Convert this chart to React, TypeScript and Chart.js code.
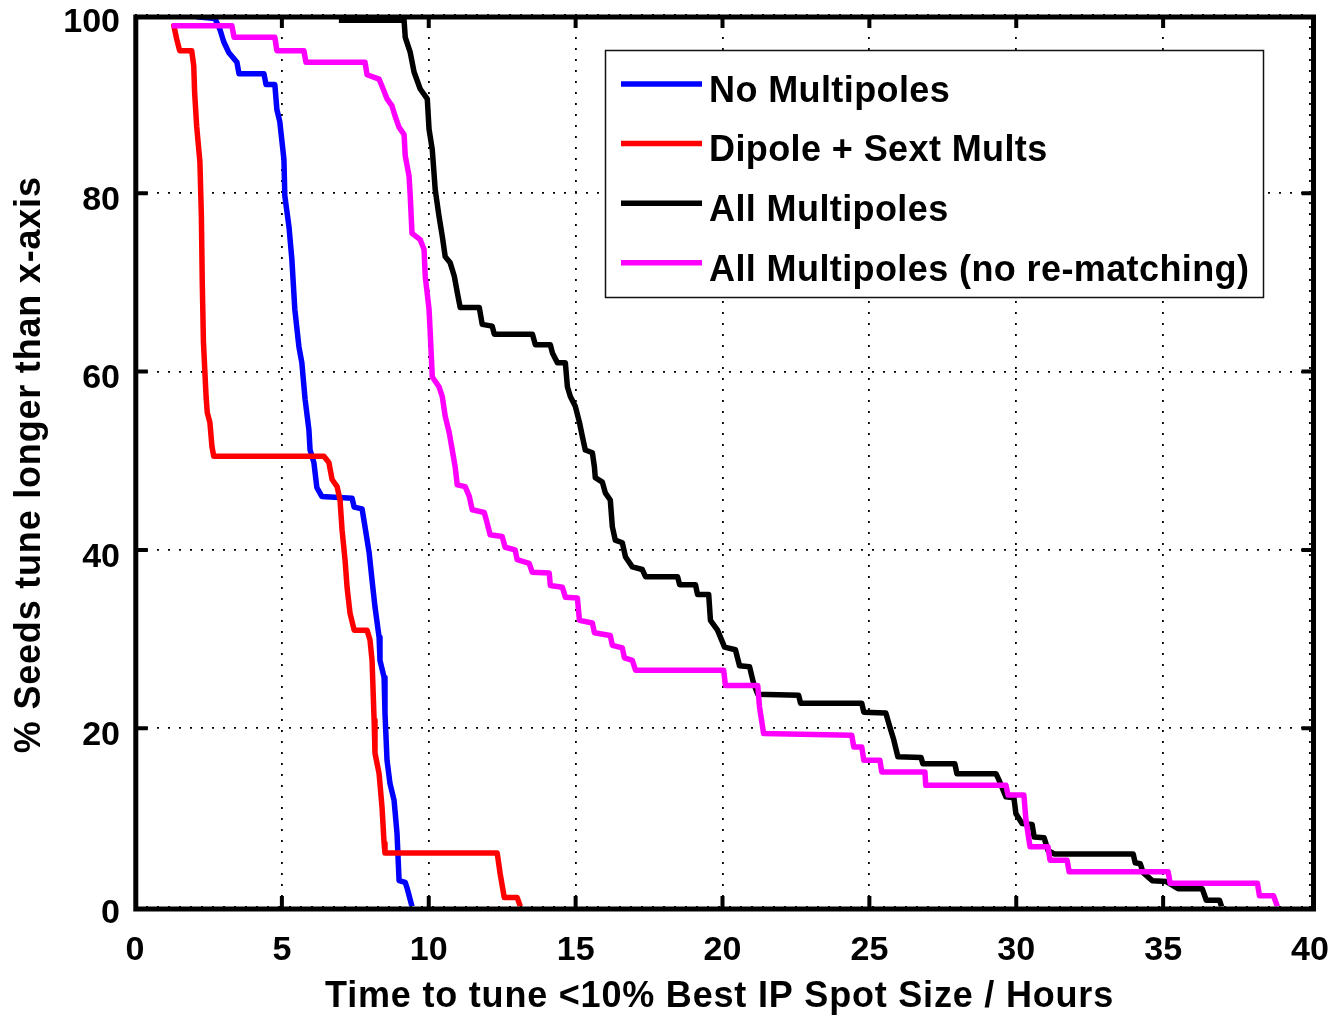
import React, { useEffect, useRef } from 'react';
import { Chart, registerables } from 'chart.js';

Chart.register(...registerables);

// ---------- data ----------
const seriesLabels = [
  'No Multipoles',
  'Dipole + Sext Mults',
  'All Multipoles',
  'All Multipoles (no re-matching)',
];
const seriesColors = ['#0000ff', '#ff0000', '#000000', '#ff00ff'];

const xTickValues = [0, 5, 10, 15, 20, 25, 30, 35, 40];
const yTickValues = [0, 20, 40, 60, 80, 100];

const xAxisTitle = 'Time to tune <10% Best IP Spot Size / Hours';
const yAxisTitle = '% Seeds tune longer than x-axis';

const noMultX = [2.1, 2.72, 2.89, 3.02, 3.19, 3.47, 3.54, 4.39, 4.46, 4.76, 4.83, 4.93, 5.07, 5.1, 5.24, 5.34, 5.44, 5.58, 5.68, 5.79, 5.92, 5.96, 6.09, 6.19, 6.36, 7.39, 7.46, 7.73, 7.83, 7.97, 8.07, 8.17, 8.31, 8.34, 8.48, 8.51, 8.58, 8.68, 8.82, 8.92, 8.99, 9.2, 9.26, 9.43];
const noMultY = [99.8, 99.6, 98.4, 97, 95.8, 94.7, 93.4, 93.4, 92.2, 92.2, 89.4, 88, 83.8, 79.7, 76.3, 72.6, 67, 62.8, 61, 56.9, 53.5, 51.2, 49.8, 47, 46, 45.8, 44.8, 44.6, 42.6, 39.7, 36.6, 33.6, 30.2, 27.6, 25.7, 21.7, 16.4, 13.8, 11.9, 8.2, 2.9, 2.7, 2.1, 0];

const dipoleX = [1.31, 1.42, 1.52, 1.93, 2.0, 2.03, 2.1, 2.21, 2.26, 2.29, 2.33, 2.38, 2.42, 2.46, 2.55, 2.62, 2.68, 6.43, 6.6, 6.71, 6.88, 6.98, 7.05, 7.15, 7.22, 7.32, 7.46, 7.9, 8.0, 8.07, 8.14, 8.17, 8.31, 8.41, 8.48, 8.51, 12.33, 12.43, 12.57, 13.01, 13.12];
const dipoleY = [99, 97.3, 96, 96, 94.3, 91.3, 87.5, 83.5, 77.4, 70, 63.3, 59.9, 57.2, 55.4, 54.3, 51.6, 50.5, 50.5, 49.8, 47.9, 47.1, 45.6, 42.2, 38.9, 35.8, 32.9, 31, 31, 29.9, 27.6, 20.9, 17.2, 14.9, 11.1, 7.1, 6, 6, 3.7, 1.0, 1.0, 0];

const allMultX = [6.94, 9.16, 9.2, 9.37, 9.5, 9.71, 9.95, 10.01, 10.12, 10.22, 10.35, 10.46, 10.56, 10.73, 10.87, 10.97, 11.07, 11.72, 11.82, 12.16, 12.23, 13.53, 13.63, 14.14, 14.21, 14.38, 14.65, 14.72, 14.82, 14.99, 15.13, 15.23, 15.33, 15.57, 15.64, 15.67, 15.91, 16.01, 16.18, 16.25, 16.35, 16.59, 16.7, 16.93, 17.27, 17.38, 18.47, 18.54, 19.08, 19.15, 19.53, 19.59, 19.83, 20.07, 20.44, 20.58, 20.92, 21.06, 21.2, 22.59, 22.66, 24.74, 24.81, 25.56, 25.7, 25.83, 25.97, 26.76, 26.82, 27.91, 27.98, 29.31, 29.41, 29.65, 29.92, 29.99, 30.2, 30.54, 30.61, 30.95, 31.08, 31.29, 33.98, 34.05, 34.22, 34.32, 34.63, 35.11, 35.51, 36.33, 36.47, 36.92, 36.99];
const allMultY = [99.4, 99.4, 97.5, 95.8, 93.6, 91.7, 90.6, 87.2, 84.9, 80.4, 77.4, 75.2, 72.9, 72.2, 70.7, 68.9, 67.2, 67.2, 65.3, 65.1, 64.2, 64.2, 63, 63, 62.1, 61, 61, 58.3, 57.2, 56.1, 54.3, 52.7, 51.2, 50.9, 49.3, 48.1, 47.6, 46.4, 45.6, 42.6, 41.1, 40.8, 39.2, 38.1, 37.8, 37, 37, 36.1, 36.1, 35, 35, 32.1, 31, 29.1, 28.8, 27, 26.9, 25, 23.8, 23.7, 22.8, 22.8, 21.8, 21.7, 20.1, 18.7, 16.8, 16.7, 16, 16, 14.9, 14.9, 14.2, 12.3, 12.2, 10.4, 9.3, 9.2, 7.8, 7.7, 6.3, 5.9, 5.9, 4.9, 4.8, 3.8, 2.9, 2.8, 2.0, 2.0, 0.7, 0.7, 0];

const noRematchX = [1.25, 3.3, 3.37, 4.76, 4.83, 5.75, 5.82, 7.83, 7.9, 8.31, 8.41, 8.58, 8.75, 8.85, 8.99, 9.16, 9.2, 9.33, 9.37, 9.43, 9.71, 9.84, 9.88, 10.01, 10.05, 10.12, 10.35, 10.46, 10.56, 10.7, 10.8, 10.9, 10.97, 11.24, 11.38, 11.48, 11.89, 11.99, 12.09, 12.5, 12.6, 12.94, 13.01, 13.42, 13.52, 14.1, 14.14, 14.55, 14.65, 15.06, 15.13, 15.57, 15.64, 16.18, 16.25, 16.59, 16.66, 16.93, 17.04, 20.04, 20.1, 21.2, 21.26, 21.4, 24.4, 24.47, 24.74, 24.81, 25.36, 25.42, 26.89, 26.92, 29.65, 29.72, 30.26, 30.33, 30.47, 31.08, 31.15, 31.73, 31.8, 35.17, 35.24, 38.21, 38.28, 38.76, 38.89];
const noRematchY = [98.8, 98.8, 97.5, 97.5, 96, 96, 94.7, 94.7, 93.3, 92.8, 92, 90.6, 89.8, 88.7, 87.4, 86.6, 84.2, 81.9, 79.7, 75.5, 74.8, 73.7, 70.7, 67, 64.4, 59.4, 58.3, 57.2, 55, 53.1, 51.2, 49.3, 47.3, 47.1, 46, 44.5, 44.2, 43, 41.7, 41.5, 40.3, 40, 38.9, 38.5, 37.5, 37.4, 36, 35.8, 34.7, 34.6, 32.1, 31.8, 30.7, 30.4, 29.3, 29, 27.9, 27.6, 26.5, 26.5, 24.8, 24.8, 22.4, 19.4, 19.2, 17.9, 17.9, 16.4, 16.4, 15.1, 15.1, 13.6, 13.6, 12.5, 12.5, 9.7, 6.7, 6.7, 5.2, 5.2, 3.9, 3.9, 2.6, 2.6, 1.2, 1.2, 0];

const seriesX = [noMultX, dipoleX, allMultX, noRematchX];
const seriesY = [noMultY, dipoleY, allMultY, noRematchY];

// ---------- styling ----------
const FONT = "'Liberation Sans', Arial, Helvetica, sans-serif";

const decorPlugin = {
  id: 'matlabDecor',
  afterDatasetsDraw(chart: any) {
    const { ctx, chartArea, scales } = chart;
    const { left, right, top, bottom } = chartArea;
    const fl = left + 0.8;
    const fr = right + 3.5;
    const ft = top + 2;
    const fb = bottom + 2.5;
    ctx.save();
    ctx.strokeStyle = '#000';
    ctx.lineWidth = 4;
    ctx.beginPath();
    for (const v of xTickValues.slice(1, -1)) {
      const px = scales.x.getPixelForValue(v);
      ctx.moveTo(px, fb);
      ctx.lineTo(px, fb - 13);
      ctx.moveTo(px, ft);
      ctx.lineTo(px, ft + 11);
    }
    for (const v of yTickValues.slice(1, -1)) {
      const py = scales.y.getPixelForValue(v);
      ctx.moveTo(fl, py);
      ctx.lineTo(fl + 12, py);
      ctx.moveTo(fr, py);
      ctx.lineTo(fr - 12, py);
    }
    ctx.stroke();
    ctx.lineWidth = 5;
    ctx.lineJoin = 'miter';
    ctx.strokeRect(fl, ft, fr - fl, fb - ft);
    ctx.restore();
  },
  afterDraw(chart: any) {
    const { ctx, chartArea } = chart;
    ctx.save();
    // axis titles
    ctx.fillStyle = '#000';
    ctx.font = `bold 36px ${FONT}`;
    (ctx as any).letterSpacing = '0.8px';
    ctx.textAlign = 'center';
    ctx.textBaseline = 'alphabetic';
    ctx.fillText(xAxisTitle, (chartArea.left + chartArea.right) / 2 - 3, 1007);
    ctx.save();
    ctx.translate(40, (chartArea.top + chartArea.bottom) / 2 + 4);
    ctx.rotate(-Math.PI / 2);
    ctx.fillText(yAxisTitle, 0, 0);
    ctx.restore();

    // legend
    const lx = 605;
    const ly = 50;
    const lw = 658;
    const lh = 247;
    ctx.fillStyle = '#fff';
    ctx.fillRect(lx, ly, lw, lh);
    ctx.strokeStyle = '#111';
    ctx.lineWidth = 1.5;
    ctx.strokeRect(lx + 0.5, ly + 0.5, lw, lh);
    ctx.font = `bold 36px ${FONT}`;
    (ctx as any).letterSpacing = '0.4px';
    ctx.textAlign = 'left';
    seriesLabels.forEach((label, i) => {
      const yy = 84 + i * 59.6;
      ctx.strokeStyle = seriesColors[i];
      ctx.lineWidth = 5.5;
      ctx.beginPath();
      ctx.moveTo(621, yy);
      ctx.lineTo(702, yy);
      ctx.stroke();
      ctx.fillStyle = '#000';
      ctx.fillText(label, 709, yy + 17.7);
    });
    (ctx as any).letterSpacing = '0px';
    ctx.restore();
  },
};

export default function App() {
  const canvasRef = useRef<HTMLCanvasElement | null>(null);

  useEffect(() => {
    document.body.style.margin = '0';
    const canvas = canvasRef.current;
    if (!canvas) return;
    const datasets = seriesLabels.map((label, i) => ({
      label,
      data: seriesX[i].map((x, j) => ({ x, y: seriesY[i][j] })),
      borderColor: seriesColors[i],
      backgroundColor: seriesColors[i],
      borderWidth: 5.5,
      pointRadius: 0,
      fill: false,
      tension: 0,
      borderJoinStyle: 'round' as const,
      order: 3 - i,
    }));
    const chart = new Chart(canvas, {
      type: 'line',
      data: { datasets },
      options: {
        responsive: false,
        animation: false,
        devicePixelRatio: 1,
        layout: { padding: { top: 15, right: 24, left: 0, bottom: 0 } },
        plugins: {
          legend: { display: false },
          tooltip: { enabled: false },
          title: { display: false },
        },
        scales: {
          x: {
            type: 'linear',
            min: 0,
            max: 40,
            ticks: {
              stepSize: 5,
              color: '#000',
              font: { family: FONT, size: 34, weight: 'bold' },
              padding: 24,
              maxRotation: 0,
              autoSkip: false,
            },
            grid: { color: '#000', lineWidth: 1.8, drawTicks: false },
            border: { display: false, dash: [2, 9] },
            afterFit: (s: any) => {
              s.height = 109.5;
              s.paddingLeft = 0;
              s.paddingRight = 0;
            },
          },
          y: {
            type: 'linear',
            min: 0,
            max: 100,
            ticks: {
              stepSize: 20,
              color: '#000',
              font: { family: FONT, size: 34, weight: 'bold' },
              padding: 15,
              labelOffset: 7.5,
              autoSkip: false,
            },
            grid: { color: '#000', lineWidth: 1.8, drawTicks: false },
            border: { display: false, dash: [2, 9] },
            afterFit: (s: any) => {
              s.width = 135;
              s.paddingTop = 0;
              s.paddingBottom = 0;
            },
          },
        },
      } as any,
      plugins: [decorPlugin],
    });
    return () => chart.destroy();
  }, []);

  return (
    <div style={{ width: 1334, height: 1016, background: '#fff' }}>
      <canvas ref={canvasRef} width={1334} height={1016} style={{ display: 'block' }} />
    </div>
  );
}
